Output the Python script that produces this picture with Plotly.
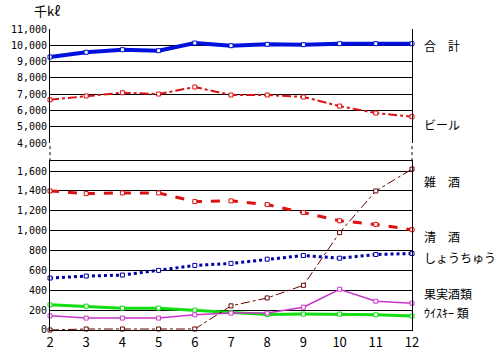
import plotly.graph_objects as go

years = [2, 3, 4, 5, 6, 7, 8, 9, 10, 11, 12]

total = [9280, 9570, 9730, 9670, 10140, 9975, 10060, 10040, 10100, 10100, 10100]
beer = [6660, 6890, 7090, 7010, 7440, 6950, 6950, 6830, 6270, 5840, 5620]
zasshu = [0, 10, 10, 10, 10, 243, 323, 450, 980, 1400, 1620]
seishu = [1400, 1373, 1380, 1380, 1293, 1300, 1263, 1183, 1100, 1063, 1010]
shochu = [523, 543, 553, 600, 650, 670, 713, 750, 723, 760, 770]
kajitsu = [143, 120, 120, 120, 153, 170, 170, 230, 410, 290, 270]
whisky = [253, 240, 220, 220, 200, 177, 157, 160, 160, 153, 140]

upper_ticks = [4000, 5000, 6000, 7000, 8000, 9000, 10000, 11000]
lower_ticks = [0, 200, 400, 600, 800, 1000, 1200, 1400, 1600]

labels = [
    ("合　計", 10000, "y2"),
    ("ビール", 5170, "y2"),
    ("雑　酒", 1500, "y"),
    ("清　酒", 940, "y"),
    ("しょうちゅう", 730, "y"),
    ("果実酒類", 370, "y"),
    ("ｳｲｽｷｰ 類", 180, "y"),
]

fig = go.Figure()


def add(vals, color, width, dash, axis):
    fig.add_trace(go.Scatter(
        x=years, y=vals, mode="lines+markers", yaxis=axis,
        line=dict(color=color, width=width, dash=dash),
        marker=dict(symbol="square", size=4, color="white",
                    line=dict(color=color, width=1)),
        showlegend=False, cliponaxis=False,
    ))


add(whisky, "#11DD11", 3, "solid", "y")
add(kajitsu, "#CC33CC", 1.5, "solid", "y")
add(shochu, "#0000AA", 3, "dot", "y")
add(seishu, "#DD1111", 3, "dash", "y")
add(zasshu, "#660000", 1, "dashdot", "y")
add(beer, "#DD1111", 2, "dashdot", "y2")
add(total, "#0011DD", 4, "solid", "y2")

tickfont = dict(family="DejaVu Sans Mono", size=10, color="black")

fig.update_layout(
    width=499, height=359,
    margin=dict(l=50, r=87, t=29, b=29),
    paper_bgcolor="white", plot_bgcolor="white",
    xaxis=dict(range=[2, 12], tickvals=years, ticktext=[str(v) for v in years],
               showgrid=False, zeroline=False, showline=True, mirror=True,
               linecolor="black", linewidth=1, ticks="",
               tickfont=dict(family="Noto Sans CJK JP", size=13, color="black"),
               anchor="y", automargin=False),
    yaxis=dict(domain=[0, 0.561], range=[0, 1700], tickvals=lower_ticks,
               ticktext=[f"{v:,}" for v in lower_ticks],
               showgrid=True, gridcolor="black", gridwidth=1,
               zeroline=False, showline=True, mirror=True,
               linecolor="black", linewidth=1, tickfont=tickfont, ticks="",
               automargin=False),
    yaxis2=dict(domain=[0.621, 1], range=[4000, 11000], tickvals=upper_ticks,
                ticktext=[f"{v:,}" for v in upper_ticks],
                showgrid=True, gridcolor="black", gridwidth=1,
                zeroline=False, showline=True, mirror=True,
                linecolor="black", linewidth=1, tickfont=tickfont, ticks="",
                anchor="x", automargin=False),
)

# broken-axis dotted connectors
for xp in (0, 1):
    fig.add_shape(type="line", xref="paper", yref="paper",
                  x0=xp, x1=xp, y0=0.561, y1=0.621,
                  line=dict(color="black", width=1, dash="dot"))

for text, yv, ax in labels:
    fig.add_annotation(text=text, xref="paper", x=1.028, xanchor="left",
                       yref=ax, y=yv, yanchor="middle", showarrow=False,
                       font=dict(family="Noto Sans CJK JP", size=12, color="black"))

fig.add_annotation(text="千kℓ", xref="paper", x=-0.05, xanchor="left",
                   yref="paper", y=1.063, yanchor="middle", showarrow=False,
                   font=dict(family="Noto Sans CJK JP", size=13, color="black"))

fig.write_html("out.html", config={"displayModeBar": False},
               post_script="document.body.style.margin='0px';")
